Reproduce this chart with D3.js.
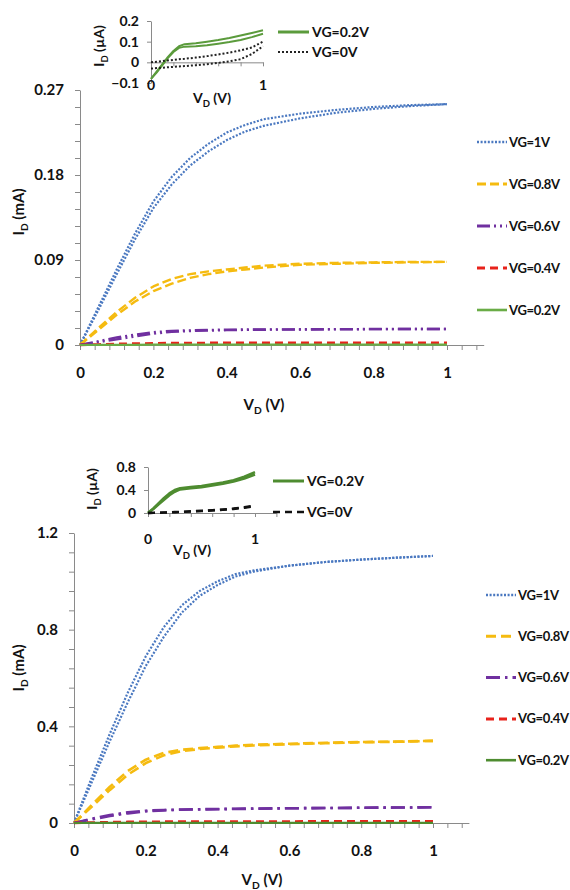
<!DOCTYPE html>
<html><head><meta charset="utf-8">
<script src="https://cdn.jsdelivr.net/npm/d3@7/dist/d3.min.js"></script>
<style>body{margin:0;background:#fff}svg{display:block}</style>
</head><body><svg id="c" width="570" height="890"></svg>
<script>
// ---------- DATA ----------
const vdMain = [0,0.05,0.1,0.15,0.2,0.25,0.3,0.35,0.4,0.45,0.5,0.6,0.7,0.8,0.9,1.0];
// top panel (mA), two sweeps each
const topVG1a   = [0,0.040,0.080,0.118,0.152,0.178,0.198,0.213,0.225,0.233,0.239,0.245,0.249,0.252,0.254,0.255];
const topVG1b   = [0,0.037,0.075,0.112,0.145,0.170,0.190,0.205,0.217,0.226,0.232,0.240,0.246,0.250,0.253,0.255];
const topVG08a  = [0,0.018,0.035,0.050,0.062,0.070,0.075,0.078,0.080,0.082,0.084,0.086,0.087,0.0875,0.088,0.088];
const topVG08b  = [0,0.016,0.032,0.046,0.057,0.065,0.071,0.075,0.078,0.080,0.082,0.085,0.086,0.087,0.0875,0.088];
const topVG06a  = [0,0.004,0.008,0.011,0.0135,0.015,0.0155,0.016,0.0162,0.0164,0.0165,0.0166,0.0168,0.0169,0.017,0.017];
const topVG06b  = [0,0.003,0.006,0.009,0.012,0.014,0.0148,0.0153,0.0157,0.016,0.0162,0.0164,0.0166,0.0168,0.0169,0.017];
const topVG04   = [0,0.0006,0.0011,0.0015,0.0018,0.002,0.0021,0.0022,0.0022,0.0023,0.0023,0.0023,0.0024,0.0024,0.0024,0.0024];
const topVG02   = [0,0.0001,0.0002,0.0002,0.0003,0.0003,0.0003,0.0003,0.0003,0.0003,0.0003,0.0003,0.0003,0.0003,0.0003,0.0003];
// bottom panel (mA)
const botVG1a   = [0,0.19,0.37,0.54,0.69,0.81,0.90,0.96,1.00,1.03,1.045,1.065,1.08,1.09,1.098,1.105];
const botVG1b   = [0,0.17,0.34,0.50,0.65,0.77,0.87,0.94,0.985,1.02,1.04,1.065,1.08,1.09,1.098,1.105];
const botVG08a  = [0,0.075,0.15,0.215,0.262,0.29,0.303,0.31,0.315,0.32,0.324,0.328,0.332,0.335,0.337,0.34];
const botVG08b  = [0,0.068,0.137,0.20,0.248,0.28,0.297,0.306,0.312,0.317,0.321,0.326,0.330,0.334,0.336,0.34];
const botVG06a  = [0,0.018,0.033,0.044,0.051,0.054,0.056,0.057,0.058,0.059,0.060,0.061,0.062,0.063,0.064,0.065];
const botVG06b  = [0,0.015,0.029,0.040,0.048,0.052,0.055,0.056,0.057,0.058,0.059,0.061,0.062,0.063,0.064,0.065];
const botVG04   = [0,0.002,0.0035,0.0045,0.005,0.0055,0.0058,0.006,0.006,0.0062,0.0063,0.0065,0.0066,0.0068,0.007,0.007];
const botVG02   = [0,0.0002,0.0004,0.0005,0.0006,0.0006,0.0007,0.0007,0.0007,0.0007,0.0007,0.0007,0.0007,0.0007,0.0007,0.0007];
// insets (µA)
const vdInset = [0,0.05,0.1,0.15,0.2,0.25,0.3,0.4,0.5,0.6,0.7,0.8,0.9,1.0];
const inTopG02a = [-0.08,-0.045,-0.01,0.025,0.055,0.078,0.088,0.092,0.10,0.108,0.118,0.13,0.142,0.155];
const inTopG02b = [-0.08,-0.05,-0.015,0.02,0.05,0.07,0.076,0.078,0.083,0.09,0.098,0.108,0.122,0.138];
const inTopG0a  = [0,0.003,0.006,0.009,0.012,0.015,0.017,0.023,0.030,0.038,0.047,0.058,0.072,0.10];
const inTopG0b  = [-0.03,-0.028,-0.026,-0.024,-0.022,-0.02,-0.018,-0.014,-0.009,-0.003,0.005,0.015,0.04,0.078];
const inBotG02a = [0,0.08,0.17,0.26,0.34,0.40,0.43,0.45,0.47,0.50,0.53,0.57,0.63,0.71];
const inBotG02b = [0,0.07,0.15,0.23,0.31,0.37,0.41,0.43,0.45,0.48,0.51,0.55,0.60,0.67];
const inBotG0a  = [0,0.003,0.006,0.01,0.013,0.017,0.02,0.03,0.04,0.05,0.062,0.078,0.10,0.13];
const inBotG0b  = [0,0.002,0.004,0.007,0.01,0.013,0.016,0.024,0.033,0.043,0.054,0.07,0.09,0.12];

const legendMain = ["VG=1V","VG=0.8V","VG=0.6V","VG=0.4V","VG=0.2V"];
const legendInset = ["VG=0.2V","VG=0V"];
const topYTicks = [0,0.09,0.18,0.27];
const botYTicks = [0,0.4,0.8,1.2];
const xTickLabels = [0,0.2,0.4,0.6,0.8,1];

// ---------- STYLE ----------
const FONT = "Lato, 'Open Sans', sans-serif";
const AX = "#8a8a8a";
const svg = d3.select("#c");
svg.append("rect").attr("width",570).attr("height",890).attr("fill","#fff");

const topStyles = [
  {c:"#4a78c0", w:2.2, d:"2,1.6"},
  {c:"#f5bb10", w:2.4, d:"9,4"},
  {c:"#7030a0", w:2.4, d:"13,4,2,4,2,4"},
  {c:"#e8221b", w:2.6, d:"8,5"},
  {c:"#6aac46", w:2.2, d:null}
];
const botStyles = [
  {c:"#4a78c0", w:2.2, d:"2,1.6"},
  {c:"#f5bb10", w:2.6, d:"10,5"},
  {c:"#7030a0", w:2.6, d:"14,5,2.5,5"},
  {c:"#e8221b", w:2.6, d:"8,5"},
  {c:"#4e8c30", w:2.2, d:null}
];

function sub(t, main, s, rest, fs){
  t.append("tspan").text(main);
  t.append("tspan").attr("font-size",fs*0.68).attr("dy",fs*0.28).text(s);
  t.append("tspan").attr("dy",-fs*0.28).text(rest);
}

function drawLine(g, x, y, xs, ys, st){
  const line = d3.line().x((d,i)=>x(xs[i])).y(d=>y(d));
  g.append("path").datum(ys).attr("d",line).attr("fill","none")
    .attr("stroke",st.c).attr("stroke-width",st.w)
    .attr("stroke-dasharray",st.d).attr("stroke-linejoin","round");
}

function mainPanel(o){
  const g = svg.append("g");
  const x = d3.scaleLinear().domain([0,1.1]).range([o.x0, o.x0+1.1*o.xu]);
  const y = d3.scaleLinear().domain([0,o.ymax]).range([o.y0,o.y1]);
  const xMinor = d3.range(0,1.1,0.04);
  const yMinor = d3.range(0,o.ymax+1e-9,o.ymax/15);
  const ax = g.append("g").attr("transform",`translate(0,${o.y0})`)
    .call(d3.axisBottom(x).tickValues(xMinor).tickSize(5).tickSizeOuter(0)
      .tickFormat(d=> xTickLabels.some(v=>Math.abs(v-d)<1e-6) ? d3.format("~g")(+d.toFixed(2)) : "")
      .tickPadding(17));
  const ay = g.append("g").attr("transform",`translate(${o.x0},0)`)
    .call(d3.axisLeft(y).tickValues(yMinor).tickSize(5).tickSizeOuter(0)
      .tickFormat(d=> o.yTicks.some(v=>Math.abs(v-d)<1e-6) ? d3.format("~g")(+d.toFixed(3)) : "")
      .tickPadding(11));
  [ax,ay].forEach(a=>{
    a.selectAll("path,line").attr("stroke",AX);
    a.selectAll("text").attr("font-family",FONT).attr("font-weight","bold").attr("font-size",15).attr("fill","#111");
  });
  o.series.forEach((s,i)=>{ s.forEach(arr=>drawLine(g,x,y,vdMain,arr,o.styles[i])); });
  const xt = g.append("text").attr("x",o.xtX).attr("y",o.xtY).attr("text-anchor","middle")
    .attr("font-family",FONT).attr("font-weight","bold").attr("font-size",15).attr("fill","#111");
  sub(xt,"V","D"," (V)",15);
  const yt = g.append("text").attr("transform",`translate(${o.ytX},${o.ytY}) rotate(-90)`).attr("text-anchor","middle")
    .attr("font-family",FONT).attr("font-weight","bold").attr("font-size",15).attr("fill","#111");
  sub(yt,"I","D"," (mA)",15);
  legendMain.forEach((name,i)=>{
    const yy = o.lgY + i*o.lgDy;
    const st = o.styles[i];
    g.append("line").attr("x1",o.lgX).attr("x2",o.lgX+30).attr("y1",yy).attr("y2",yy)
      .attr("stroke",st.c).attr("stroke-width",st.w+0.4).attr("stroke-dasharray",st.d);
    g.append("text").attr("x",o.lgX+32).attr("y",yy).attr("dy","0.35em")
      .attr("font-family",FONT).attr("font-weight","bold").attr("font-size",13).attr("letter-spacing","-0.3")
      .attr("fill","#111").text(name);
  });
}

function insetPanel(o){
  const g = svg.append("g");
  const x = d3.scaleLinear().domain([0,o.xmax]).range([o.x0,o.x0+o.xmax*o.xu]);
  const y = d3.scaleLinear().domain([o.ymin,o.ymax]).range([o.y0,o.y1]);
  const ay = g.append("g").attr("transform",`translate(${o.x0},0)`)
    .call(d3.axisLeft(y).tickValues(o.yTicks).tickSize(4).tickSizeOuter(0)
      .tickFormat(d=>d3.format("~g")(+d.toFixed(2))).tickPadding(8));
  const ax = g.append("g").attr("transform",`translate(0,${y(0)})`)
    .call(d3.axisBottom(x).tickValues(d3.range(0,o.xmax+1e-9,0.2)).tickSize(4).tickSizeOuter(0).tickFormat(""));
  [ax,ay].forEach(a=>{
    a.selectAll("path,line").attr("stroke",AX);
    a.selectAll("text").attr("font-family",FONT).attr("font-weight","bold").attr("font-size",14).attr("fill","#111");
  });
  [0,1].forEach(v=>{
    g.append("text").attr("x",x(v)).attr("y",o.xlY).attr("dy","0.35em").attr("text-anchor","middle")
      .attr("font-family",FONT).attr("font-weight","bold").attr("font-size",14).attr("fill","#111").text(v);
  });
  o.series.forEach((s,i)=>{ s.forEach(arr=>drawLine(g,x,y,vdInset,arr,o.styles[i])); });
  const xt = g.append("text").attr("x",o.xtX).attr("y",o.xtY).attr("text-anchor","middle")
    .attr("font-family",FONT).attr("font-weight","bold").attr("font-size",14).attr("fill","#111");
  sub(xt,"V","D"," (V)",14);
  const yt = g.append("text").attr("transform",`translate(${o.ytX},${o.ytY}) rotate(-90)`).attr("text-anchor","middle")
    .attr("font-family",FONT).attr("font-weight","bold").attr("font-size",14).attr("fill","#111");
  sub(yt,"I","D"," (\u00B5A)",14);
  legendInset.forEach((name,i)=>{
    const yy = o.lgY + i*o.lgDy;
    const st = o.styles[i];
    g.append("line").attr("x1",o.lgX).attr("x2",o.lgX+31).attr("y1",yy).attr("y2",yy)
      .attr("stroke",st.c).attr("stroke-width",st.lw||st.w).attr("stroke-dasharray",st.d);
    g.append("text").attr("x",o.lgX+34).attr("y",yy).attr("dy","0.35em")
      .attr("font-family",FONT).attr("font-weight","bold").attr("font-size",14).attr("fill","#111").text(name);
  });
}

// ---------- TOP ----------
mainPanel({x0:80, xu:367, y0:345, y1:90, ymax:0.27, yTicks:topYTicks,
  series:[[topVG1a,topVG1b],[topVG08a,topVG08b],[topVG06a,topVG06b],[topVG04],[topVG02]],
  styles:topStyles, xtX:264, xtY:410, ytX:24, ytY:212, lgX:477, lgY:142, lgDy:42});
insetPanel({x0:151, xu:112, xmax:1, y0:83, y1:21, ymin:-0.1, ymax:0.2, yTicks:[-0.1,0,0.1,0.2],
  series:[[inTopG02a,inTopG02b],[inTopG0a,inTopG0b]],
  styles:[{c:"#5b9b3c",w:2,lw:3},{c:"#222",w:2,d:"2,2",lw:2.2}],
  xlY:85, xtX:212, xtY:103, ytX:104, ytY:46, lgX:278, lgY:32, lgDy:20});

// ---------- BOTTOM ----------
mainPanel({x0:74, xu:359, y0:823, y1:533, ymax:1.2, yTicks:botYTicks,
  series:[[botVG1a,botVG1b],[botVG08a,botVG08b],[botVG06a,botVG06b],[botVG04],[botVG02]],
  styles:botStyles, xtX:262, xtY:885, ytX:24, ytY:668, lgX:486, lgY:595, lgDy:41.3});
insetPanel({x0:148, xu:107, xmax:1.2, y0:513, y1:467, ymin:0, ymax:0.8, yTicks:[0,0.4,0.8],
  series:[[inBotG02a,inBotG02b],[inBotG0a,inBotG0b]],
  styles:[{c:"#4e8c30",w:2.6,lw:3},{c:"#111",w:2.4,d:"7,5",lw:2.6}],
  xlY:539, xtX:192, xtY:555, ytX:97, ytY:489, lgX:273, lgY:481, lgDy:31});
</script></body></html>
